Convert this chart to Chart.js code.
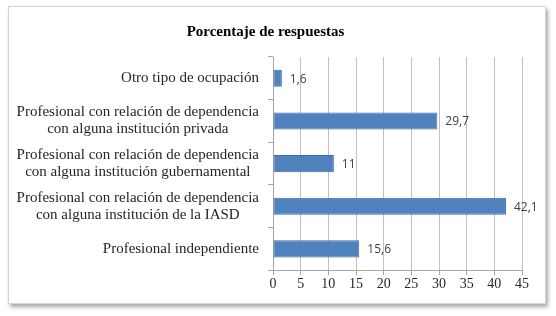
<!DOCTYPE html>
<html>
<head>
<meta charset="utf-8">
<script src="https://cdn.jsdelivr.net/npm/chart.js@4.4.0/dist/chart.umd.min.js"></script>
<style>
  body { margin: 0; background: #fff; }
  #box {
    position: absolute; left: 8px; top: 6px; width: 536px; height: 296px;
    border: 1px solid #d4d4d4; background: #fff;
    box-shadow: 2px 3px 4px rgba(0,0,0,0.35);
  }
</style>
</head>
<body>
<div id="box"><canvas id="myChart" width="536" height="296"></canvas></div>
<script>
// categories in Excel order (bottom to top)
const categories = [
    ['Profesional independiente'],
    ['Profesional con relación de dependencia', 'con alguna institución de la IASD'],
    ['Profesional con relación de dependencia', 'con alguna institución gubernamental'],
    ['Profesional con relación de dependencia', 'con alguna institución privada'],
    ['Otro tipo de ocupación']
];
const valores = [15.6, 42.1, 11, 29.7, 1.6];
const xTicks = [0, 5, 10, 15, 20, 25, 30, 35, 40, 45];

const serif = '"Liberation Serif", "Times New Roman", serif';

// draw the y labels: block right-aligned, lines centred inside the block
const yLabels = {
    id: 'yLabels',
    afterDraw(chart) {
        const ctx = chart.ctx;
        const scale = chart.scales.y;
        ctx.save();
        ctx.font = '15px ' + serif;
        ctx.fillStyle = '#262626';
        ctx.textAlign = 'center';
        ctx.textBaseline = 'middle';
        const right = scale.right - 14;
        categories.forEach((lines, i) => {
            const y = scale.getPixelForValue(i);
            const w = Math.max(...lines.map(l => ctx.measureText(l).width));
            const cx = right - w / 2;
            const lh = 17;
            lines.forEach((l, j) => {
                ctx.fillText(l, cx, y + (j - (lines.length - 1) / 2) * lh);
            });
        });
        ctx.restore();
    }
};

// value labels after each bar
const valueLabels = {
    id: 'valueLabels',
    afterDatasetsDraw(chart) {
        const ctx = chart.ctx;
        ctx.save();
        ctx.font = '12px "Open Sans", "Liberation Sans", sans-serif';
        ctx.fillStyle = '#404040';
        ctx.textAlign = 'left';
        ctx.textBaseline = 'middle';
        chart.getDatasetMeta(0).data.forEach((bar, i) => {
            ctx.fillText(String(valores[i]).replace('.', ','), bar.x + 8, bar.y + 1);
        });
        ctx.restore();
    }
};

const ctx = document.getElementById('myChart').getContext('2d');
const chart = new Chart(ctx, {
    type: 'bar',
    data: {
        labels: categories.map(c => c.join(' ')),
        datasets: [{
            data: valores,
            backgroundColor: '#4f81bd',
            borderColor: '#3d6ea8',
            borderWidth: 1,
            borderSkipped: false,
            barPercentage: 0.4,
            categoryPercentage: 1
        }]
    },
    options: {
        indexAxis: 'y',
        responsive: false,
        animation: false,
        layout: { padding: { left: 0, right: 23, top: 0, bottom: 9 } },
        plugins: {
            legend: { display: false },
            tooltip: { enabled: false },
            title: {
                display: true,
                text: 'Porcentaje de respuestas',
                color: '#000',
                font: { family: serif, size: 15, weight: 'bold' },
                padding: { top: 16, bottom: 16 }
            }
        },
        scales: {
            x: {
                min: 0,
                max: 45,
                afterBuildTicks: s => { s.ticks = xTicks.map(v => ({ value: v })); },
                grid: { color: '#c0c0c0', tickLength: 5, tickColor: '#a6a6a6' },
                border: { color: '#a6a6a6' },
                ticks: { color: '#262626', font: { family: serif, size: 14 }, padding: 1 }
            },
            y: {
                reverse: true,
                afterFit: s => { s.width = 264; },
                grid: { drawOnChartArea: false, tickLength: 5, color: '#a6a6a6', offset: true },
                border: { color: '#a6a6a6' },
                ticks: { display: false }
            }
        }
    },
    plugins: [yLabels, valueLabels]
});
</script>
</body>
</html>
